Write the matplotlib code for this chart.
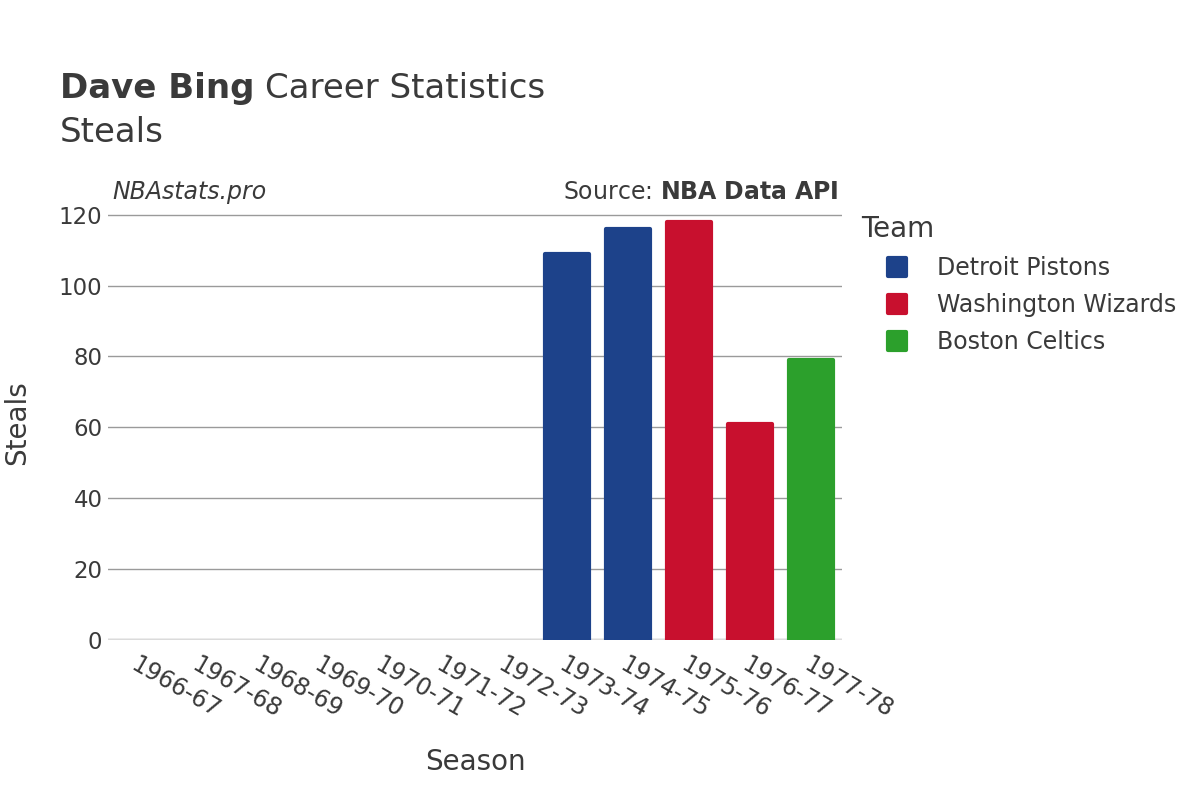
import matplotlib
matplotlib.use("Agg")
import matplotlib.pyplot as plt
from matplotlib.lines import Line2D
from matplotlib.markers import MarkerStyle

plt.rcParams['font.family'] = ['DejaVu Sans']

# Data
seasons = ["1966-67", "1967-68", "1968-69", "1969-70", "1970-71", "1971-72",
           "1972-73", "1973-74", "1974-75", "1975-76", "1976-77", "1977-78"]
steals = [None, None, None, None, None, None, None, 109, 116, 118, 61, 79]
teams = [None, None, None, None, None, None, None,
         "Detroit Pistons", "Detroit Pistons", "Washington Wizards",
         "Washington Wizards", "Boston Celtics"]
team_names = ["Detroit Pistons", "Washington Wizards", "Boston Celtics"]
team_colors = {"Detroit Pistons": "#1d428a",
               "Washington Wizards": "#c8102e",
               "Boston Celtics": "#2ca02c"}

text_color = "#3a3a3a"

fig = plt.figure(figsize=(12, 8), dpi=100)
ax = fig.add_axes([0.09, 0.2, 0.6117, 0.544])

x = list(range(len(seasons)))
for i, (val, team) in enumerate(zip(steals, teams)):
    if val is None:
        continue
    c = team_colors[team]
    ax.bar(i, val, width=0.72, color=c, edgecolor=c, linewidth=3,
           joinstyle="round", zorder=3)

ax.set_xlim(-0.5, len(seasons) - 0.5)
ax.set_ylim(0, 122.8)
ax.set_yticks([0, 20, 40, 60, 80, 100, 120])
ax.grid(axis="y", color="#9a9a9a", linewidth=1, zorder=0)
ax.axhline(0, color="#ebebeb", linewidth=3.5, zorder=1)
for s in ax.spines.values():
    s.set_visible(False)
ax.tick_params(length=0, labelsize=16.5, labelcolor=text_color, pad=4)
ax.set_xticks(x)
ax.set_xticklabels(seasons, rotation=-30, ha="left", va="top",
                   rotation_mode="anchor", fontsize=17)
ax.tick_params(axis="x", pad=9)

ax.set_xlabel("Season", fontsize=20, color=text_color, labelpad=18)
ax.set_ylabel("Steals", fontsize=20, color=text_color, labelpad=20)

# Title
t1 = fig.text(0.05, 0.889, "Dave Bing", fontsize=24.5, fontweight="bold",
              color=text_color, va="center")
fig.canvas.draw()
bb = t1.get_window_extent().transformed(fig.transFigure.inverted())
fig.text(bb.x1 + 0.009, 0.889, "Career Statistics", fontsize=24.5,
         color=text_color, va="center")
fig.text(0.05, 0.834, "Steals", fontsize=24.5, color=text_color, va="center")

# Annotations
fig.text(0.094, 0.76, "NBAstats.pro", fontsize=17, style="italic",
         color=text_color, va="center")
fig.text(0.699, 0.76, "Source: $\\bf{NBA\\ Data\\ API}$", fontsize=17,
         color=text_color, va="center", ha="right")

# Legend
handles = [Line2D([], [], linestyle="none",
                  marker=MarkerStyle("s", joinstyle="round"),
                  markersize=13, markerfacecolor=team_colors[t],
                  markeredgecolor=team_colors[t], markeredgewidth=3,
                  label=t) for t in team_names]
leg = fig.legend(handles=handles, title="Team", loc="upper left",
                 bbox_to_anchor=(0.702, 0.755), frameon=False,
                 fontsize=17, title_fontsize=20, labelcolor=text_color,
                 handlelength=3.0, handletextpad=0.2, labelspacing=0.55,
                 borderpad=0.3)
leg.get_title().set_color(text_color)
leg._legend_box.align = "left"

fig.savefig("out.png", dpi=100)
